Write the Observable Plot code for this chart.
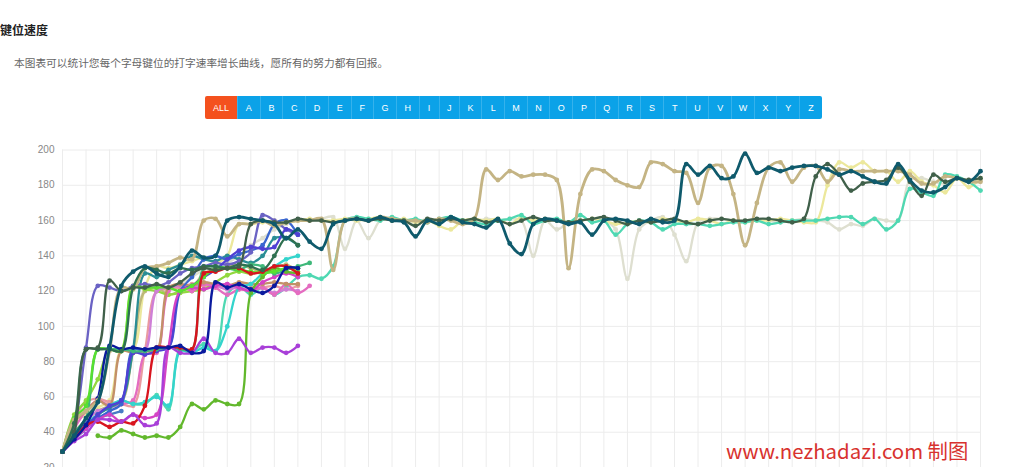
<!DOCTYPE html>
<html lang="zh">
<head>
<meta charset="utf-8">
<script src="https://cdn.jsdelivr.net/npm/d3@7"></script>
<script src="https://cdn.jsdelivr.net/npm/@observablehq/plot@0.6"></script>
<style>
html,body{margin:0;padding:0;background:#fff;width:1024px;height:467px;overflow:hidden;font-family:"Noto Sans CJK SC","Noto Sans",sans-serif;}
#page{position:relative;width:1024px;height:467px;overflow:hidden;}
#head{position:relative;height:130px;}
#title{position:absolute;left:0;top:22px;font-size:12px;font-weight:700;color:#222;line-height:16px;white-space:nowrap;}
#sub{position:absolute;left:14px;top:55px;font-size:10.7px;color:#666;line-height:16px;white-space:nowrap;}
#btns{position:absolute;left:205px;top:96px;width:617px;height:23px;display:flex;font-size:9px;color:#fff;font-family:"Liberation Sans",sans-serif;}
#btns div{flex:1 1 0;background:#0ba2e8;display:flex;align-items:center;justify-content:center;border-left:1px solid #35b2ec;box-sizing:border-box;}
#btns div.all{flex:0 0 32px;background:#f4511e;border-left:none;border-radius:2px 0 0 2px;}
#btns div.nar{flex:0 0 20px;}
#btns div:last-child{border-radius:0 2px 2px 0;}
#mark{position:absolute;left:726px;top:437px;font-size:20.4px;color:#d8322e;line-height:26px;white-space:nowrap;}
svg{display:block;}
</style>
</head>
<body>
<div id="page">
<div id="head">
<div id="title">键位速度</div>
<div id="sub">本图表可以统计您每个字母键位的打字速率增长曲线，愿所有的努力都有回报。</div>
<div id="btns"></div>
</div>
<div id="chart"></div>
<div id="mark">www.nezhadazi.com 制图</div>
</div>
<script>
const keyLabels = ["ALL","A","B","C","D","E","F","G","H","I","J","K","L","M","N","O","P","Q","R","S","T","U","V","W","X","Y","Z"];
const yTicks = [20,40,60,80,100,120,140,160,180,200];
const xGrid = [0,2,4,6,8,10,12,14,16,18,20,22,24,26,28,30,32,34,36,38,40,42,44,46,48,50,52,54,56,58,60,62,64,66,68,70,72,74,76,78];

const paleGray = [29,38,44,50,54,58,86,121,122,120,124,128,132,134,136,140,146,150,155,158,160,160,161,162,144,160,150,160,161,160,159,161,160,161,160,159,161,160,161,160,140,160,155,159,160,161,160,155,127,155,160,162,152,137,159,161,161,160,160,161,160,159,160,161,160,159,155,158,157,161,160,160,183,184,182,181,184,183,183];
const yellowKey = [29,45,50,54,58,87,87,122,134,133,135,137,139,136,140,158,158,159,160,159,160,161,160,160,161,160,161,162,160,161,159,160,157,155,160,161,160,161,158,162,160,161,160,159,160,161,160,158,159,160,159,161,160,159,161,160,158,160,159,160,160,161,160,159,159,180,193,190,193,188,188,182,188,182,180,176,184,179,184];
const mintKey = [29,37,45,50,54,58,56,56,61,53,87,86,90,86,118,123,118,122,118,122,128,129,127,134,160,162,161,160,162,160,161,159,161,162,160,159,158,160,161,163,158,160,161,159,163,159,160,152,158,160,159,155,158,158,158,157,158,159,159,160,158,159,160,160,160,161,162,162,158,161,155,160,178,176,174,186,185,182,177];
const tanKey = [29,47,52,58,86,122,121,133,134,136,139,138,160,161,151,158,158,160,157,159,160,160,161,132,160,161,160,162,161,160,160,159,161,160,158,161,189,183,188,185,186,186,183,133,175,189,188,183,180,179,193,192,188,187,170,190,191,175,146,170,190,193,182,190,191,182,189,188,188,188,188,188,186,181,181,185,184,182,182];
const salmonKey = [29,48,57,59,57,56,55,86,120,121,122,124,123,122,124,121,122,122,123,121,123];
const pinkKey = [29,42,52,58,55,56,58,84,85,120,124,120,124,122,118,121,120,122,118,124,119,123];
const orchidKey = [29,38,46,52,54,57,85,86,120,122,123,122,124,123,121,122,120,122,119,121,120];
const tanSalmonKey = [29,46,52,58,55,86,85,86,86,122,124,123,125,124,123,125,124,124,125,124,124];
const khakiKey = [29,40,47,52,55,57,86,120,122,118,120,122,130,132,134,135,133,131,133,135,131];
const limeKey = [29,50,58,70,87,87,123,121,120,118,119,120,121,125,129,131,130,132,131,133,131];
const brightGreen = [29,48,55,87,87,86,122,122,122,122,120,123,128,133,133,132,131,130,131,133,133];
const oliveGreen = [null,null,null,38,37,41,39,37,38,37,43,56,53,58,56,56,119,128,133,131,130];
const seaGreen = [29,40,48,87,87,87,86,86,87,88,87,87,133,134,133,132,135,134,130,132,134,136];
const cyanKey = [29,38,45,50,55,58,56,57,60,55,86,85,88,86,100,122,124,130,134,138,140];
const tealKey = [29,36,42,50,54,58,87,130,128,132,135,140,138,137,140,138,136,140,150,150,146];
const steelKey = [29,36,44,48,50,52];
const blueKey = [29,38,45,48,52,56,87,86,88,88,120,128,138,140,138,141,143,146,158,160,152];
const violetKey = [29,44,88,123,122,120,123,124,123,125,130,133,134,136,135,137,142,163,160,155,152];
const indigoKey = [29,36,43,50,55,58,85,84,86,88,120,123,128,132,138,143,145,144,145,155,152];
const magentaKey = [29,36,42,47,50,46,50,48,50,88,120,122,121,123,124,122,120,125,128,130,128];
const redKey = [29,36,44,46,43,46,45,55,88,88,88,87,130,131,133,133,130,131,134,134,130];
const purpleKey = [29,35,39,47,47,46,50,44,45,88,85,85,93,85,85,93,85,88,88,85,89];
const navyKey = [29,36,44,59,89,87,88,87,88,88,89,85,86,125,122,124,121,119,123,133,133];
const darkGreen = [29,45,87,87,87,86,122,133,132,130,133,132,134,134,133,135,134,132,140,150,146];
const darkOlive = [29,40,87,88,126,120,122,122,124,122,125,130,133,132,133,134,158,160,159,159,161,160,160,159,160,161,160,161,160,160,157,161,160,161,160,161,159,160,158,160,162,160,160,159,160,161,162,160,158,160,159,160,161,159,158,160,161,160,160,161,161,160,159,161,185,192,186,177,181,182,183,190,182,174,186,182,184,183,184];
const darkTeal = [29,38,48,57,88,123,131,134,130,128,134,143,139,140,160,162,161,160,158,150,155,148,144,158,160,161,160,162,160,159,151,160,158,162,159,158,156,161,147,141,158,161,160,158,159,152,160,161,160,158,161,159,160,192,186,191,184,185,198,187,190,188,190,191,191,189,186,188,185,182,181,192,183,177,176,179,184,182,188];

const seriesList = [
  [paleGray,"#dedfd0"],[yellowKey,"#ece89c"],[mintKey,"#4fd8b2"],[salmonKey,"#ea9aa0"],
  [khakiKey,"#bdb87a"],[limeKey,"#92d83e"],[orchidKey,"#cf7fd6"],[pinkKey,"#e46cc0"],
  [tanSalmonKey,"#c39068"],[cyanKey,"#34d4cc"],[steelKey,"#4a7cc4"],[tealKey,"#2a8d94"],
  [blueKey,"#3a66cf"],[violetKey,"#6a62c4"],[indigoKey,"#5040d4"],[magentaKey,"#d443c4"],
  [seaGreen,"#3fb87a"],[oliveGreen,"#62b82c"],[brightGreen,"#58e030"],[redKey,"#d8141e"],
  [purpleKey,"#a83fd8"],[navyKey,"#0a1a9e"],[tanKey,"#c4b484"],[darkGreen,"#2f7050"],
  [darkOlive,"#40604a"],[darkTeal,"#0f5a6c"]
];

const toRows = vals => vals.map((v,i)=>({i,v})).filter(d=>d.v!==null);

const marks = [
  Plot.ruleX(xGrid,{stroke:"#ececec",strokeWidth:1}),
  Plot.ruleY(yTicks,{stroke:"#ececec",strokeWidth:1}),
  Plot.axisY({ticks:yTicks,tickSize:0,tickPadding:8,label:null,fontSize:10,color:"#888"}),
];
for(const [vals,color] of seriesList){
  const rows = toRows(vals);
  const wide = vals===darkTeal||vals===tanKey?2.8:2.3;
  marks.push(Plot.line(rows,{x:"i",y:"v",stroke:color,strokeWidth:wide,curve:"catmull-rom"}));
  marks.push(Plot.dot(rows,{x:"i",y:"v",fill:color,r:2.4}));
}

const chart = Plot.plot({
  width:1024,height:337,marginLeft:62,marginRight:44,marginTop:19.5,marginBottom:0,
  x:{domain:[0,78],axis:null},
  y:{domain:[20,200]},
  style:{background:"transparent",color:"#888",fontFamily:"'Liberation Sans',sans-serif"},
  marks
});
document.getElementById("chart").append(chart);

const btns = document.getElementById("btns");
for(const k of keyLabels){
  const b=document.createElement("div");
  b.textContent=k;
  if(k==="ALL")b.className="all";
  if(k==="I"||k==="J")b.className="nar";
  btns.append(b);
}
</script>
</body>
</html>
